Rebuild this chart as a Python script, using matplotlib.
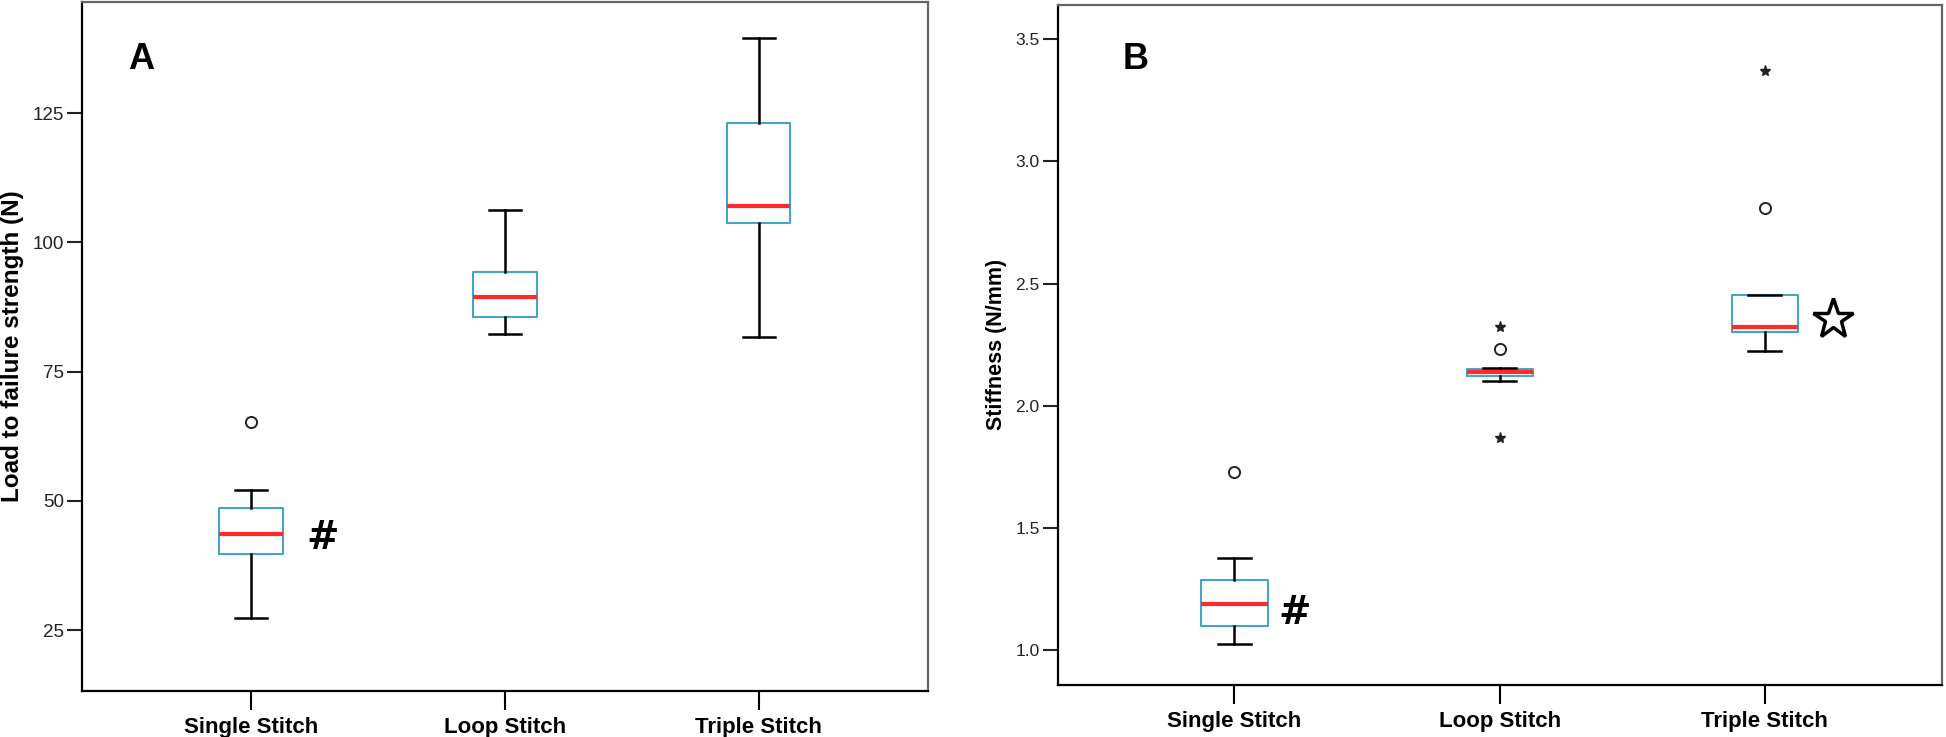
import matplotlib
matplotlib.use("Agg")
import matplotlib.pyplot as plt

# categories
groups = ["Single Stitch", "Loop Stitch", "Triple Stitch"]

# panel A: load to failure strength (N)
load_whislo = [27.4, 82.2, 81.6]
load_q1 = [39.7, 85.6, 103.8]
load_med = [43.6, 89.5, 107.0]
load_q3 = [48.7, 94.2, 123.0]
load_whishi = [52.1, 106.3, 139.5]
load_outliers = [[65.2], [], []]
load_extremes = [[], [], []]

# panel B: stiffness (N/mm)
stiff_whislo = [1.027, 2.102, 2.223]
stiff_q1 = [1.099, 2.123, 2.304]
stiff_med = [1.189, 2.138, 2.323]
stiff_q3 = [1.288, 2.150, 2.452]
stiff_whishi = [1.378, 2.155, 2.452]
stiff_outliers = [[1.729], [2.231], [2.811]]
stiff_extremes = [[], [2.321, 1.867], [3.369]]

load_ticks = [25, 50, 75, 100, 125]
stiff_ticks = [1.0, 1.5, 2.0, 2.5, 3.0, 3.5]
stiff_ticklabels = ["1.0", "1.5", "2.0", "2.5", "3.0", "3.5"]

BOX_COLOR = "#45a5c8"
MED_COLOR = "#ff2b2b"

plt.rcParams["font.family"] = ["Liberation Sans", "DejaVu Sans"]


def draw_panel(ax, whislo, q1, med, q3, whishi, outliers, extremes,
               ylim, ticks, ylabel, ylabel_size, tick_size, letter, letter_pos):
    stats = []
    for i in range(len(groups)):
        stats.append({"whislo": whislo[i], "q1": q1[i], "med": med[i],
                      "q3": q3[i], "whishi": whishi[i], "fliers": []})
    pos = [1, 2, 3]
    ax.bxp(stats, positions=pos, widths=0.25, showfliers=False,
           boxprops=dict(color=BOX_COLOR, linewidth=1.5),
           medianprops=dict(color=MED_COLOR, linewidth=3),
           whiskerprops=dict(color="black", linewidth=1.8),
           capprops=dict(color="black", linewidth=1.8),
           capwidths=0.125)
    for i, p in enumerate(pos):
        if outliers[i]:
            ax.plot([p] * len(outliers[i]), outliers[i], "o", ms=8,
                    mfc="none", mec="#222222", mew=1.4)
        if extremes[i]:
            ax.plot([p] * len(extremes[i]), extremes[i], "*", ms=8,
                    color="#222222")
    ax.set_xlim(1 / 3, 3 + 2 / 3)
    ax.set_ylim(*ylim)
    ax.set_xticks(pos)
    ax.set_xticklabels(groups, fontsize=16, fontweight="bold")
    ax.set_yticks(ticks)
    ax.tick_params(axis="y", direction="out", length=11, width=1.5,
                   labelsize=tick_size, pad=2, colors="#222222")
    ax.tick_params(axis="x", direction="out", length=14, width=1.5, pad=5)
    ax.set_ylabel(ylabel, fontsize=ylabel_size, fontweight="bold", labelpad=6)
    for s in ["left", "bottom"]:
        ax.spines[s].set_linewidth(1.6)
        ax.spines[s].set_color("black")
    for s in ["top", "right"]:
        ax.spines[s].set_linewidth(1.6)
        ax.spines[s].set_color("#666666")
    ax.text(letter_pos[0], letter_pos[1], letter, transform=ax.transAxes,
            fontsize=26, fontweight="bold", ha="center", va="center")


fig = plt.figure(figsize=(19.46, 7.37), dpi=100)
ax1 = fig.add_axes([0.0421, 0.0624, 0.4347, 0.9349])
ax2 = fig.add_axes([0.5435, 0.0712, 0.4543, 0.9220])

draw_panel(ax1, load_whislo, load_q1, load_med, load_q3, load_whishi,
           load_outliers, load_extremes, (13.2, 146.5), load_ticks,
           "Load to failure strength (N)", 17.5, 13.5, "A", (0.07, 0.916))
ax1.text(1.28, 42.8, "#", fontsize=28, fontweight="bold", family="DejaVu Sans",
         ha="center", va="center")

draw_panel(ax2, stiff_whislo, stiff_q1, stiff_med, stiff_q3, stiff_whishi,
           stiff_outliers, stiff_extremes, (0.86, 3.64), stiff_ticks,
           "Stiffness (N/mm)", 15.5, 12.5, "B", (0.0886, 0.9205))
ax2.set_yticklabels(stiff_ticklabels)
ax2.text(1.226, 1.152, "#", fontsize=28, fontweight="bold", family="DejaVu Sans",
         ha="center", va="center")
ax2.plot([3.257], [2.356], "*", ms=30, mfc="none", mec="black", mew=2.5)

fig.savefig("out.png", dpi=100)
